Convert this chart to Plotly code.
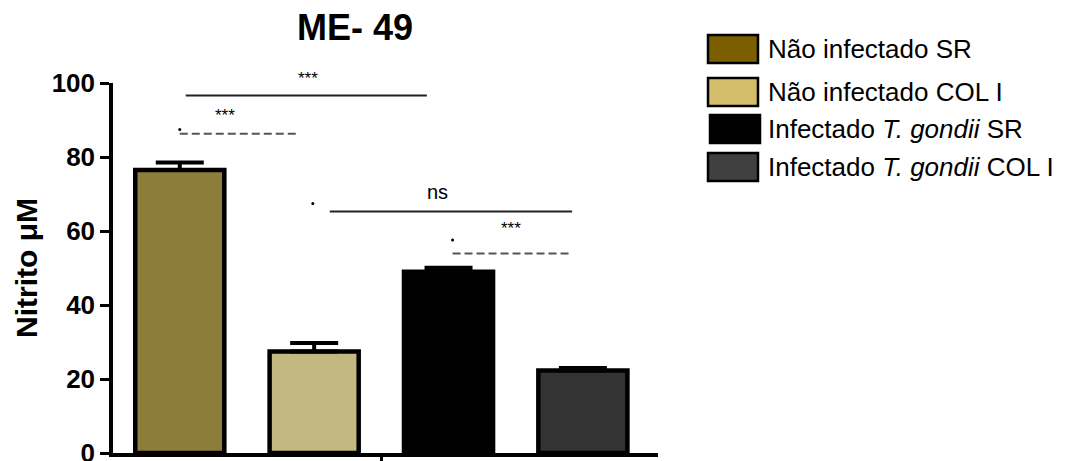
import plotly.graph_objects as go

# Nitrite production (uM) by group, ME-49 strain
groups = [
    "Não infectado SR",
    "Não infectado COL I",
    "Infectado <i>T. gondii</i> SR",
    "Infectado <i>T. gondii</i> COL I",
]
nitrito = [76.5, 27.4, 49.0, 22.3]
erro = [2.0, 2.3, 1.1, 0.7]

bar_colors = ["#8C7D3A", "#C2B880", "#000000", "#333333"]
legend_colors = ["#7B5E00", "#D4BD6A", "#000000", "#404040"]

y_ticks = [0, 20, 40, 60, 80, 100]

# significance brackets: (x0, x1, y, label, dashed, label_x, label_y, dot_x, dot_y)
brackets = [
    (-1.456, 0.339, 96.6, "***", False, -0.544, 98.0, None, None),
    (-1.50, -0.62, 86.3, "***", True, -1.16, 88.0, -1.50, 87.4),
    (-0.384, 1.42, 65.3, "ns", False, 0.42, 67.0, -0.51, 67.4),
    (0.53, 1.42, 53.9, "***", True, 0.964, 57.7, 0.53, 57.6),
]

W, H = 1066, 461
ML, MR, MT, MB = 113, 408, 83, 8
PW, PH = W - ML - MR, H - MT - MB


def px_x(p):
    return (p - ML) / PW


def px_y(p):
    return (H - MB - p) / PH


FONT = "Liberation Sans, Arial, sans-serif"

fig = go.Figure()

positions = [i - (len(groups) - 1) / 2 for i in range(len(groups))]
for pos, val, err, col in zip(positions, nitrito, erro, bar_colors):
    fig.add_trace(go.Bar(
        x=[pos], y=[val], width=0.663,
        marker=dict(color=col, line=dict(color="black", width=4.5)),
        error_y=dict(type="data", symmetric=False, array=[err], arrayminus=[0],
                     color="black", thickness=4, width=24),
        showlegend=False, hoverinfo="skip",
    ))

dot_x = [b[7] for b in brackets if b[7] is not None]
dot_y = [b[8] for b in brackets if b[8] is not None]
fig.add_trace(go.Scatter(x=dot_x, y=dot_y, mode="markers",
                         marker=dict(color="black", size=3),
                         showlegend=False, hoverinfo="skip"))

shapes = []
annotations = []
for x0, x1, yv, lab, dashed, lx, ly, _, _ in brackets:
    shapes.append(dict(
        type="line", xref="x", yref="y", x0=x0, x1=x1, y0=yv, y1=yv,
        line=dict(color="#555555" if dashed else "#222222", width=2,
                  dash="8px,4px" if dashed else "solid"),
    ))
    annotations.append(dict(
        x=lx, y=ly, xref="x", yref="y", text=lab, showarrow=False,
        yanchor="bottom", xanchor="center",
        font=dict(family=FONT, size=20 if lab == "ns" else 17, color="black"),
    ))

# legend drawn as large swatches with text
sw_top = [35, 78, 115, 153]
sw_x0 = [708, 708, 710, 708]
for name, col, top, x0 in zip(groups, legend_colors, sw_top, sw_x0):
    shapes.append(dict(
        type="rect", xref="paper", yref="paper",
        x0=px_x(x0), x1=px_x(x0 + 50), y0=px_y(top), y1=px_y(top + 28),
        fillcolor=col, line=dict(color="black", width=2.5),
    ))
    annotations.append(dict(
        x=px_x(766), y=px_y(top + 14), xref="paper", yref="paper",
        text=name, showarrow=False, xanchor="left", yanchor="middle",
        font=dict(family=FONT, size=26, color="black"),
    ))

# chart title
annotations.append(dict(
    x=px_x(355), y=px_y(28), xref="paper", yref="paper", text="ME- 49",
    showarrow=False, xanchor="center", yanchor="middle",
    font=dict(family=FONT, size=36, color="black", weight="bold"),
))

# y-axis title
annotations.append(dict(
    x=px_x(26), y=0.5, xref="paper", yref="paper", text="Nitrito μM",
    textangle=-90, showarrow=False, xanchor="center", yanchor="middle",
    font=dict(family=FONT, size=30, color="black", weight="bold"),
))

fig.update_layout(
    width=W, height=H,
    margin=dict(l=ML, r=MR, t=MT, b=MB, pad=0),
    paper_bgcolor="white", plot_bgcolor="white",
    barmode="overlay",
    shapes=shapes, annotations=annotations,
    xaxis=dict(range=[-1.997, 2.059], showgrid=False, zeroline=False,
               showline=True, linecolor="black", linewidth=4,
               ticks="outside", tickvals=[0], ticktext=[""],
               ticklen=9, tickwidth=3, tickcolor="black",
               automargin=False, fixedrange=True),
    yaxis=dict(range=[0, 100], showgrid=False, zeroline=False,
               showline=True, linecolor="black", linewidth=3.5,
               ticks="outside", tickvals=y_ticks, ticklen=9, tickwidth=3,
               tickcolor="black", ticklabeloverflow="allow",
               tickfont=dict(family=FONT, size=26, color="black", weight="bold"),
               automargin=False, fixedrange=True),
)

fig.write_html("out.html")
